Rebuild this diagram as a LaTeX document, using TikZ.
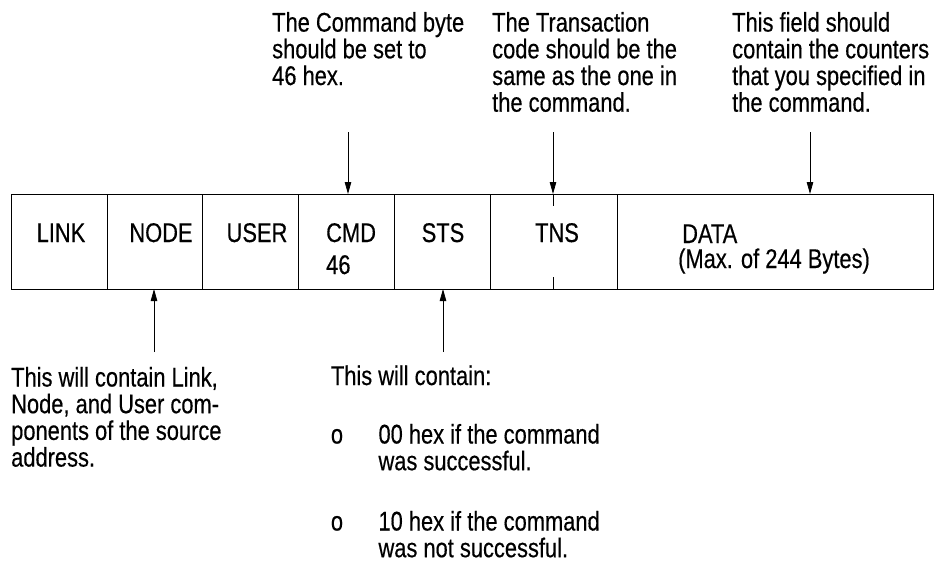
\documentclass[tikz,border=0pt]{standalone}
\usepackage{fontspec}
\setmainfont[FakeStretch=0.81,FakeBold=0.4]{Liberation Sans}
\usepackage{tikz}
\usetikzlibrary{positioning,arrows.meta}
\tikzset{
  field/.style={draw,line width=1pt,minimum height=95pt,inner sep=0pt,outer sep=0pt},
  lbl/.style={inner sep=0pt,font=\fontsize{27}{26.7}\selectfont},
  note/.style={lbl,align=left,anchor=base west},
  ptr/.style={line width=0.8pt,-{Triangle[length=12pt,width=6.5pt]}}
}
\begin{document}
\begin{tikzpicture}[x=1pt,y=-1pt]
\useasboundingbox (0,0) rectangle (948,566);
\node[field,minimum width=96pt,anchor=north west] (link) at (11,194) {};
\node[field,minimum width=95pt,right=0pt of link] (node) {};
\node[field,minimum width=96pt,right=0pt of node] (user) {};
\node[field,minimum width=96pt,right=0pt of user] (cmd) {};
\node[field,minimum width=96pt,right=0pt of cmd] (sts) {};
\node[field,minimum width=127pt,right=0pt of sts] (tns) {};
\node[field,minimum width=316pt,right=0pt of tns] (data) {};

\node[lbl,anchor=base] (linklbl) at (61,242) {LINK};
\node[lbl,anchor=base] (nodelbl) at (161,242) {NODE};
\node[lbl,anchor=base] (userlbl) at (257,242) {USER};
\node[lbl,anchor=base west] (cmdlbl) at (326,242) {CMD};
\node[lbl,anchor=base west] (cmdval) at (326,274) {46};
\node[lbl,anchor=base] (stslbl) at (443,242) {STS};
\node[lbl,anchor=base] (tnslbl) at (557,242) {TNS};
\node[lbl,anchor=base west] (datalbl) at (682,243) {DATA};
\node[lbl,anchor=base west] (datamax) at (678,268) {(Max. of 244 Bytes)};

% notes are placed by the baseline of their last line
\node[note] (cmdnote) at (272,85) {The Command byte\\should be set to\\46 hex.};
\node[note] (tnsnote) at (492,111.7) {The Transaction\\code should be the\\same as the one in\\the command.};
\node[note] (datanote) at (732,111.7) {This field should\\contain the counters\\that you specified in\\the command.};
\node[note] (addrnote) at (11,466.6) {This will contain Link,\\Node, and User com-\\ponents of the source\\address.};
\node[note] (stsnote) at (330.7,385) {This will contain:};
\node[note] (okmark) at (330.7,443.5) {o};
\node[note] (oktext) at (378.3,470.2) {00 hex if the command\\was successful.};
\node[note] (errmark) at (330.7,530.5) {o};
\node[note] (errtext) at (378.3,557.2) {10 hex if the command\\was not successful.};

\coordinate (cmdtail) at (348,132);
\coordinate (tnstail) at (553,132);
\coordinate (datatail) at (810,132);
\coordinate (nodetail) at (154,352);
\coordinate (ststail) at (443,352);
\draw[ptr] (cmdtail) -- (cmdtail |- cmd.north);
\draw[ptr] (tnstail) -- (tnstail |- tns.north);
\draw[ptr] (datatail) -- (datatail |- data.north);
\draw[ptr] (nodetail) -- (nodetail |- node.south);
\draw[ptr] (ststail) -- (ststail |- sts.south);
\draw[line width=0.8pt] (tnstail |- tns.north) -- ++(0,12);
\draw[line width=0.8pt] (tnstail |- tns.south) -- ++(0,-12);
\end{tikzpicture}
\end{document}
